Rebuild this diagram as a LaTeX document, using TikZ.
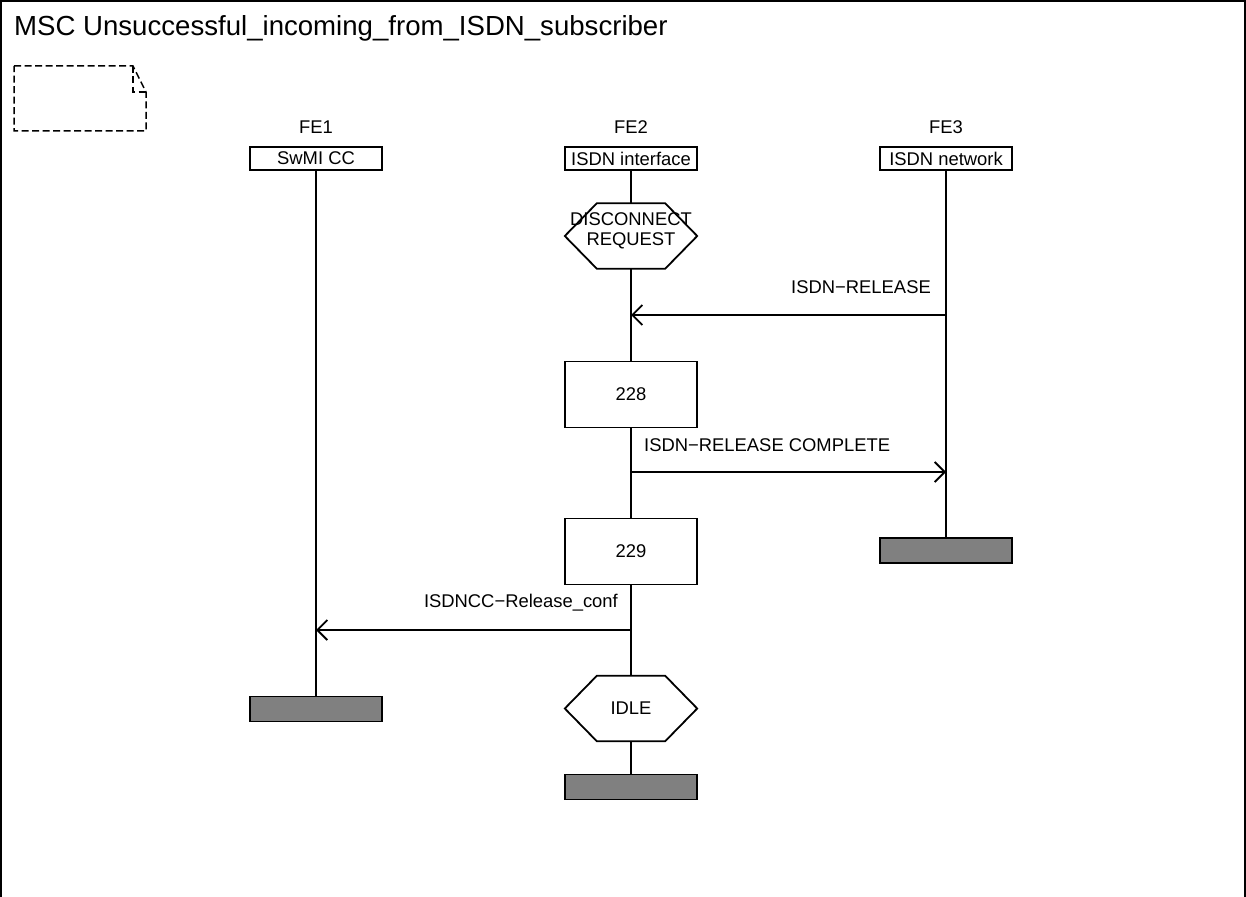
\documentclass[tikz,border=0pt]{standalone}
\usepackage{fontspec}
\setmainfont{Liberation Sans}
\usetikzlibrary{arrows.meta}
\tikzset{
  lbl/.style={font=\fontsize{18.4}{20}\selectfont, inner sep=0pt},
  headbox/.style={draw, line width=1.8pt, fill=white, minimum width=132pt, minimum height=23pt, inner sep=0pt, font=\fontsize{18.4}{20}\selectfont},
  actbox/.style={draw, line width=1.8pt, fill=white, minimum width=132pt, minimum height=66pt, inner sep=0pt, font=\fontsize{18.4}{20}\selectfont},
  endbar/.style={draw, line width=1.8pt, fill={rgb,255:red,128;green,128;blue,128}, minimum width=132pt, minimum height=25pt, inner sep=0pt},
  hexnode/.style={minimum width=132pt, minimum height=65pt, inner sep=0pt, font=\fontsize{18.4}{20}\selectfont, align=center},
  life/.style={line width=1.8pt},
  msg/.style={line width=1.8pt, -{Straight Barb[length=10pt,width=20pt,line width=1.8pt]}},
}
\begin{document}
\begin{tikzpicture}[x=1pt,y=-1pt]
\useasboundingbox (0,0) rectangle (1246,896);
% frame
\draw[line width=1.8pt] (1,900) -- (1,1) -- (1245,1) -- (1245,900);
\node[anchor=west, inner sep=0pt, font=\fontsize{27.6}{30}\selectfont] (title) at (14,28) {MSC Unsuccessful\_incoming\_from\_ISDN\_subscriber};
% comment symbol
\draw[line width=1.5pt, dash pattern=on 7pt off 3.5pt] (14,66) -- (133,66) -- (146,92) -- (146,131) -- (14,131) -- cycle;
\draw[line width=1.5pt, dash pattern=on 7pt off 3.5pt] (133,66) -- (133,92) -- (146,92);
% instance names
\node[lbl] (fe1) at (316,127) {FE1};
\node[lbl] (fe2) at (631,127) {FE2};
\node[lbl] (fe3) at (946,127) {FE3};
% heads
\node[headbox] (h1) at (316,158.5) {SwMI CC};
\node[headbox] (h2) at (631,158.5) {ISDN interface};
\node[headbox] (h3) at (946,158.5) {ISDN network};
% FE2 elements
\node[hexnode] (disc) at (631,236) {};
\draw[line width=1.8pt, fill=white] (disc.west) -- ([xshift=32pt]disc.north west) -- ([xshift=-32pt]disc.north east) -- (disc.east) -- ([xshift=-32pt]disc.south east) -- ([xshift=32pt]disc.south west) -- cycle;
\node[hexnode] (disctext) at (631,231) {DISCONNECT\\REQUEST};
\node[actbox] (a228) at (631,394.5) {228};
\node[actbox] (a229) at (631,551.5) {229};
\node[hexnode] (idle) at (631,708.5) {};
\draw[line width=1.8pt, fill=white] (idle.west) -- ([xshift=32pt]idle.north west) -- ([xshift=-32pt]idle.north east) -- (idle.east) -- ([xshift=-32pt]idle.south east) -- ([xshift=32pt]idle.south west) -- cycle;
\node[lbl] (idletext) at (631,708.5) {IDLE};
% end bars
\node[endbar] (e1) at (316,709) {};
\node[endbar] (e2) at (631,787) {};
\node[endbar] (e3) at (946,550.5) {};
% lifelines
\draw[life] (h1.south) -- (e1.north);
\draw[life] (h3.south) -- (e3.north);
\draw[life] (h2.south) -- (disc.north);
\draw[life] (disc.south) -- (a228.north);
\draw[life] (a228.south) -- (a229.north);
\draw[life] (a229.south) -- (idle.north);
\draw[life] (idle.south) -- (e2.north);
% messages
\coordinate (m1s) at (946,315);
\coordinate (m1e) at (631,315);
\draw[msg] (m1s) -- (m1e);
\node[lbl, anchor=east] (l1) at (931,287) {ISDN−RELEASE};
\coordinate (m2s) at (631,472);
\coordinate (m2e) at (946,472);
\draw[msg] (m2s) -- (m2e);
\node[lbl, anchor=west] (l2) at (644,445) {ISDN−RELEASE COMPLETE};
\coordinate (m3s) at (631,630);
\coordinate (m3e) at (316,630);
\draw[msg] (m3s) -- (m3e);
\node[lbl, anchor=east] (l3) at (618,603) {ISDNCC−Release\_conf};
\end{tikzpicture}
\end{document}
